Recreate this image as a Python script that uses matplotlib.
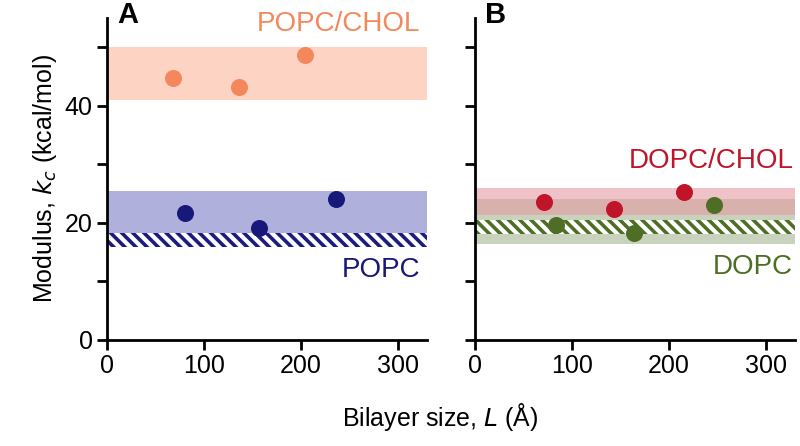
import matplotlib.pyplot as plt
from matplotlib.patches import Rectangle

plt.rcParams['font.family'] = ['Liberation Sans', 'DejaVu Sans']
plt.rcParams['hatch.linewidth'] = 2.6

# panel A: POPC/CHOL and POPC
popc_chol_x = [68, 136, 204]
popc_chol_y = [44.8, 43.2, 48.6]
popc_chol_band = [41, 50]
popc_x = [80, 157, 236]
popc_y = [21.7, 19.1, 24.1]
popc_band = [18.2, 25.5]
popc_hatch = [15.8, 18.2]

# panel B: DOPC/CHOL and DOPC
dopc_chol_x = [71, 143, 215]
dopc_chol_y = [23.6, 22.4, 25.3]
dopc_chol_band = [21.4, 26.0]
dopc_x = [83, 164, 246]
dopc_y = [19.7, 18.3, 23.1]
dopc_band = [16.4, 24.1]
dopc_hatch = [18.0, 20.5]

fig = plt.figure(figsize=(8, 4.46), dpi=100)
ax1 = fig.add_axes([0.134, 0.238, 0.4, 0.722])
ax2 = fig.add_axes([0.594, 0.238, 0.4, 0.722])

for ax in [ax1, ax2]:
    ax.set_xlim(0, 330)
    ax.set_ylim(0, 55)
    ax.spines['top'].set_visible(False)
    ax.spines['right'].set_visible(False)
    ax.spines['left'].set_linewidth(2)
    ax.spines['bottom'].set_linewidth(2)
    ax.set_xticks([0, 100, 200, 300])
    ax.set_yticks([0, 10, 20, 30, 40, 50])
    ax.tick_params(direction='out', length=7, width=2, labelsize=18)

ax1.set_yticklabels(['0', '', '20', '', '40', ''])
ax2.set_yticklabels([])

def hatch_band(ax, lims, color):
    ax.add_patch(Rectangle((0, lims[0]), 330, lims[1] - lims[0], facecolor='white',
                           edgecolor=color, hatch='\\\\\\', linewidth=0, zorder=2))

# panel A
ax1.axhspan(popc_chol_band[0], popc_chol_band[1], color='#fdd3c4', lw=0, zorder=1)
ax1.axhspan(popc_band[0], popc_band[1], color='#b0b0dc', lw=0, zorder=1)
hatch_band(ax1, popc_hatch, '#1c1c80')
ax1.scatter(popc_chol_x, popc_chol_y, s=150, color='#f4875c', zorder=3, lw=0)
ax1.scatter(popc_x, popc_y, s=150, color='#18187a', zorder=3, lw=0)
ax1.text(323, 54, 'POPC/CHOL', color='#f4875c', fontsize=20, ha='right', va='center')
ax1.text(323, 12, 'POPC', color='#18187a', fontsize=20, ha='right', va='center')
ax1.text(10, 55.5, 'A', fontsize=21, fontweight='bold', ha='left', va='center')

# panel B
ax2.axhspan(dopc_band[0], dopc_band[1], color='#c8d2bc', lw=0, zorder=1)
ax2.axhspan(dopc_chol_band[0], dopc_chol_band[1], color='#e39aa2', alpha=0.6, lw=0, zorder=1)
hatch_band(ax2, dopc_hatch, '#4e6e26')
ax2.scatter(dopc_chol_x, dopc_chol_y, s=150, color='#c0142a', zorder=3, lw=0)
ax2.scatter(dopc_x, dopc_y, s=150, color='#4e6e26', zorder=3, lw=0)
ax2.text(328, 30.5, 'DOPC/CHOL', color='#c0142a', fontsize=20, ha='right', va='center')
ax2.text(328, 12.5, 'DOPC', color='#4e6e26', fontsize=20, ha='right', va='center')
ax2.text(10, 55.5, 'B', fontsize=21, fontweight='bold', ha='left', va='center')

ax1.set_ylabel('Modulus, $k_c$ (kcal/mol)', fontsize=18)
fig.text(0.55, 0.065, 'Bilayer size, $L$ (Å)', fontsize=18, ha='center', va='center')

plt.savefig('out.png', dpi=100)
